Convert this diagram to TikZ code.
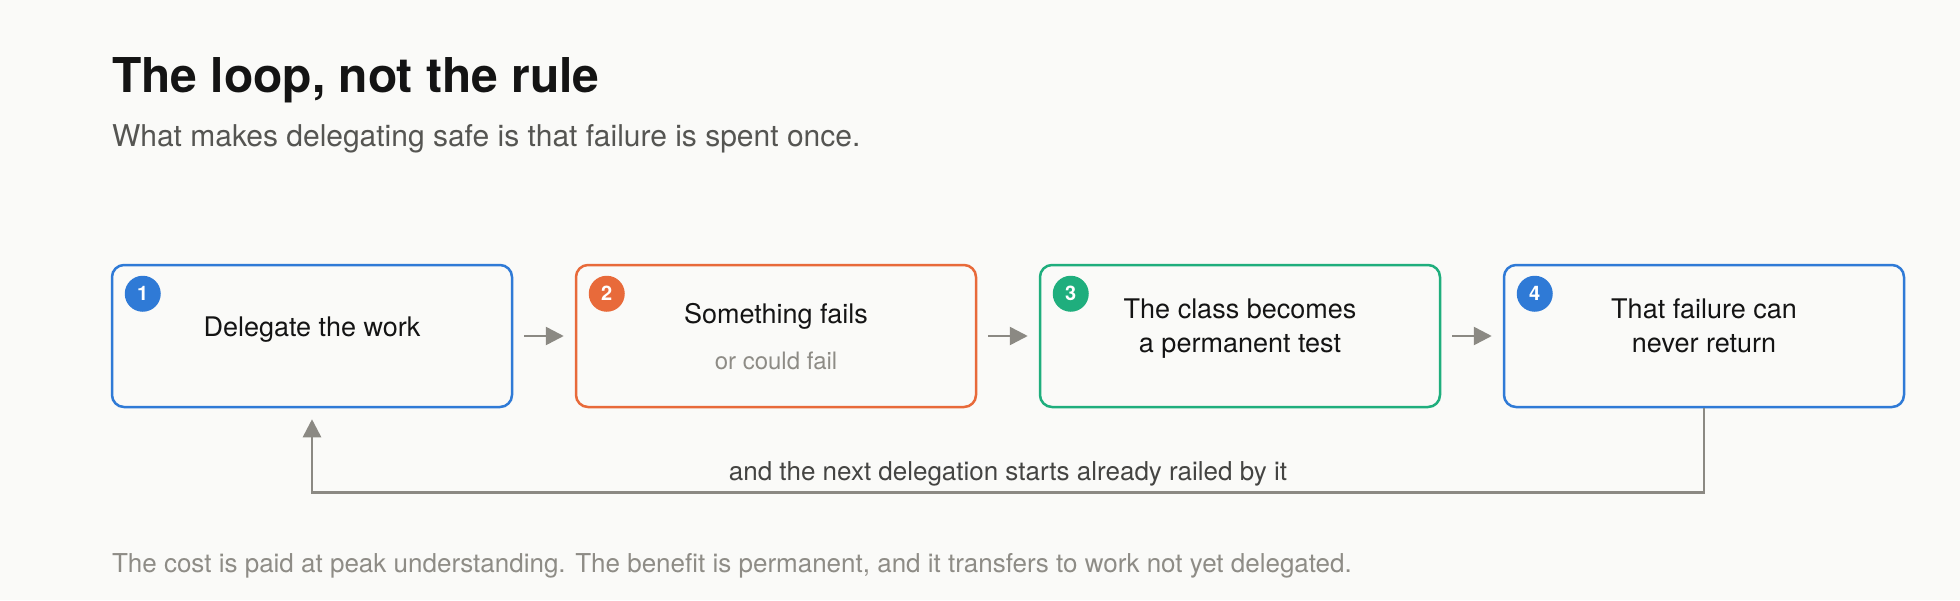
\documentclass[tikz,border=0pt]{standalone}
\usepackage{fontspec}
\setmainfont{TeX Gyre Heros}
\usetikzlibrary{arrows.meta,calc}
\definecolor{bgpage}{HTML}{FAFAF8}
\definecolor{stepblue}{HTML}{2F7AD6}
\definecolor{steporange}{HTML}{E86A3A}
\definecolor{stepgreen}{HTML}{1FAE7D}
\definecolor{wiregray}{HTML}{8B8983}
\definecolor{inkdark}{HTML}{141414}
\definecolor{inkmid}{HTML}{555552}
\definecolor{inklabel}{HTML}{444442}
\definecolor{inklight}{HTML}{8E8C86}
\tikzstyle{plain}=[inner sep=0pt, outer sep=0pt]
\tikzstyle{stepbox}=[draw, line width=1.25pt, rounded corners=6pt, minimum width=200pt, minimum height=71pt, inner sep=0pt]
\tikzstyle{badge}=[circle, minimum size=18pt, inner sep=0pt, text=white, font=\bfseries\fontsize{10}{12}\selectfont]
\tikzstyle{steptext}=[plain, anchor=base, align=center, text=inkdark, font=\fontsize{13.5}{17}\selectfont]
\tikzstyle{wire}=[draw=wiregray, line width=1.3pt, -{Triangle[length=9pt,width=9pt]}]

\begin{document}
\begin{tikzpicture}[x=0.5pt, y=-0.5pt]
\fill[bgpage] (0,0) rectangle (1960,600);
\useasboundingbox (0,0) rectangle (1960,600);
\node[plain, anchor=base west, text=inkdark, font=\bfseries\fontsize{24}{29}\selectfont] (title) at (112,92) {The loop, not the rule};
\node[plain, anchor=base west, text=inkmid, font=\fontsize{15}{18}\selectfont] (sub) at (112,146) {What makes delegating safe is that failure is spent once.};
\node[stepbox, draw=stepblue] (box1) at (312,336) {};
\node[stepbox, draw=steporange] (box2) at (776,336) {};
\node[stepbox, draw=stepgreen] (box3) at (1240,336) {};
\node[stepbox, draw=stepblue] (box4) at (1704,336) {};
\node[badge, fill=stepblue] (n1) at ($(box1.north west)+(32,30)$) {1};
\node[badge, fill=steporange] (n2) at ($(box2.north west)+(32,30)$) {2};
\node[badge, fill=stepgreen] (n3) at ($(box3.north west)+(32,30)$) {3};
\node[badge, fill=stepblue] (n4) at ($(box4.north west)+(32,30)$) {4};
\node[steptext] (t1) at (312,336) {Delegate the work};
\node[steptext] (t2) at (776,323) {Something fails};
\node[steptext, text=inklight, font=\fontsize{12}{14}\selectfont] (t2b) at (776,369) {or could fail};
\node[steptext] (t3) at (1240,352) {The class becomes\\a permanent test};
\node[steptext] (t4) at (1704,352) {That failure can\\never return};
\draw[wire, shorten <=5.5pt, shorten >=5.5pt] (box1.east) -- (box2.west);
\draw[wire, shorten <=5.5pt, shorten >=5.5pt] (box2.east) -- (box3.west);
\draw[wire, shorten <=5.5pt, shorten >=5.5pt] (box3.east) -- (box4.west);
\draw[wire, shorten >=5.5pt] (box4.south) -- ++(0,84) -| (box1.south);
\node[plain, anchor=base, text=inklabel, font=\fontsize{13}{16}\selectfont] (back) at (1008,480) {and the next delegation starts already railed by it};
\node[plain, anchor=base west, text=inklight, font=\fontsize{13}{16}\selectfont] (foot) at (112,572) {The cost is paid at peak understanding. The benefit is permanent, and it transfers to work not yet delegated.};
\end{tikzpicture}
\end{document}
